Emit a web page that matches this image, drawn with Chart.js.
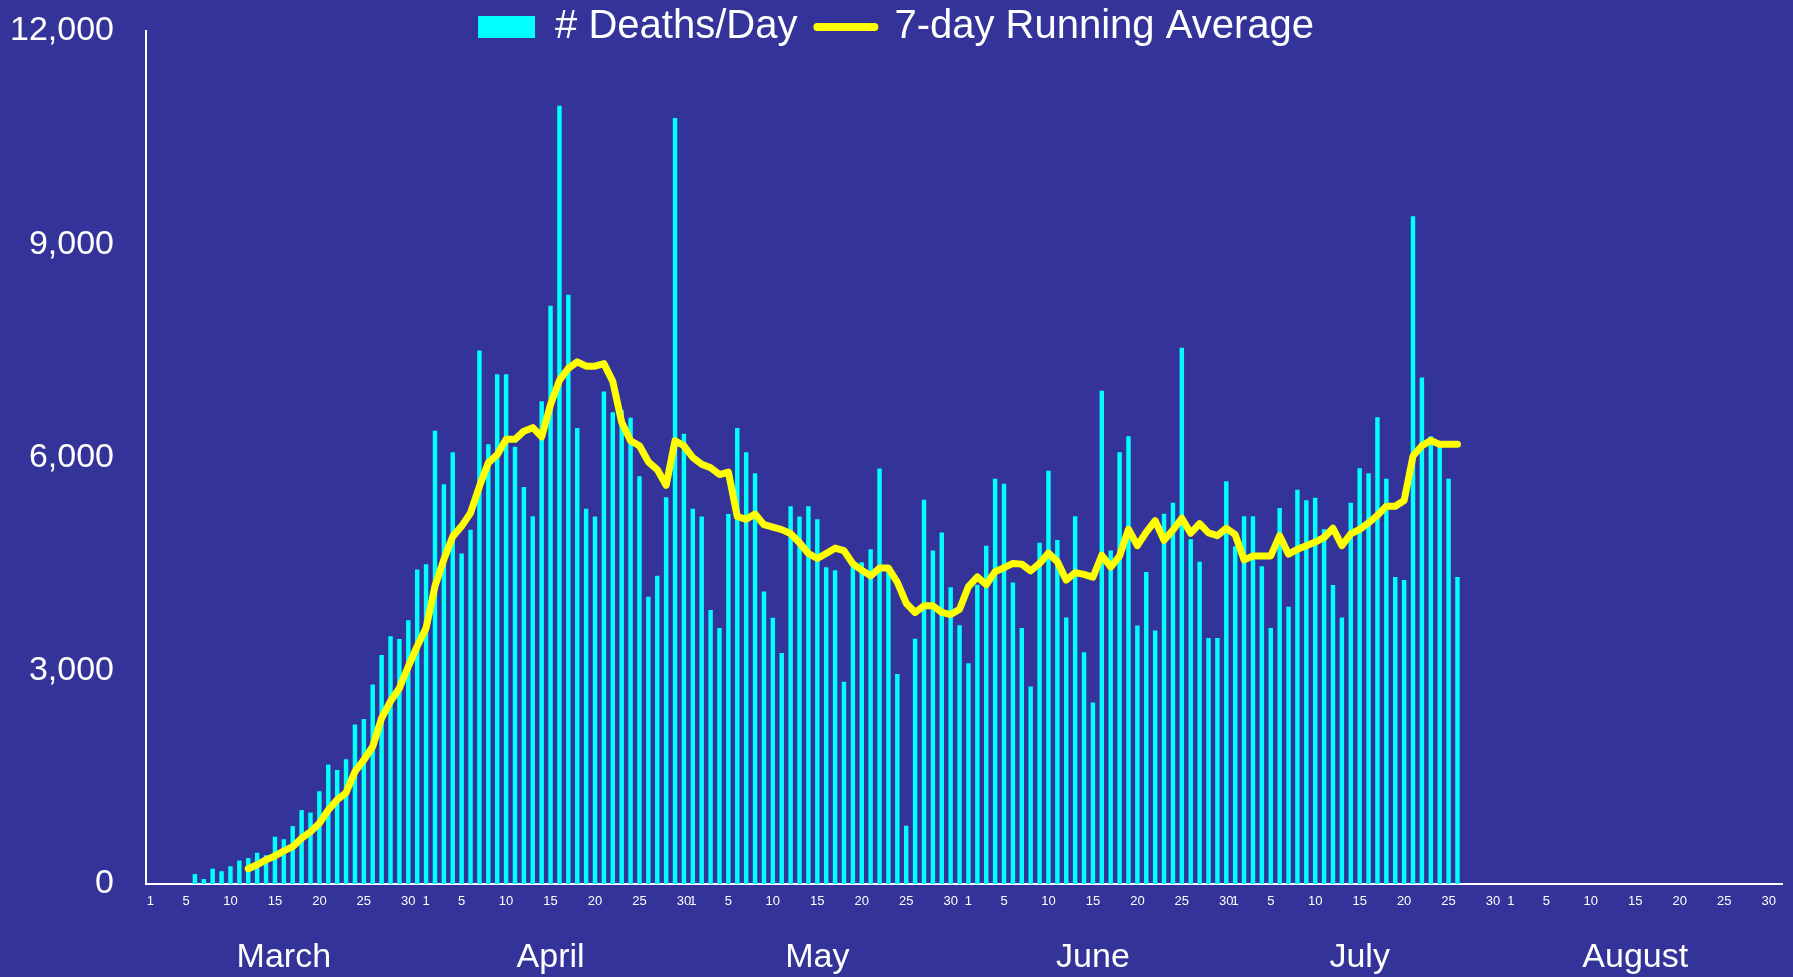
<!DOCTYPE html>
<html>
<head>
<meta charset="utf-8">
<title>Deaths per day</title>
<script src="https://cdn.jsdelivr.net/npm/chart.js@4.4.0/dist/chart.umd.min.js"></script>
<style>
    html, body { margin: 0; padding: 0; background: #333399; overflow: hidden; }
    canvas { display: block; }
</style>
</head>
<body>
<canvas id="deaths-chart" width="1793" height="977"></canvas>
<script>
// ====== CATEGORIES ======
const monthNames = ['March', 'April', 'May', 'June', 'July', 'August'];
const monthLengths = [31, 30, 31, 30, 31, 31];
const shownDays = [1, 5, 10, 15, 20, 25, 30];       // day numbers printed under the axis
const monthLabelDay = [16, 15, 15, 15, 15, 15];     // where each month name sits

// ====== # DEATHS / DAY ======
const deathsMarch = [null, null, null, null, null, 140, 70, 215, 180, 250, 330, 365, 440, 405, 665, 630, 815, 1040, 1005, 1305, 1680, 1605, 1755, 2245, 2320, 2805, 3220, 3485, 3445, 3710, 4425];
const deathsApril = [4500, 6375, 5625, 6075, 4650, 4985, 7505, 6185, 7170, 7170, 6150, 5585, 5175, 6790, 8135, 10950, 8290, 6415, 5280, 5170, 6930, 6635, 6665, 6560, 5735, 4040, 4335, 5440, 10775, 6335];
const deathsMay = [5280, 5170, 3855, 3600, 5205, 6415, 6075, 5780, 4115, 3745, 3250, 5315, 5170, 5315, 5130, 4455, 4415, 2845, 4465, 4525, 4710, 5845, 4400, 2955, 820, 3450, 5405, 4690, 4945, 4175, 3640];
const deathsJune = [3105, 4210, 4760, 5700, 5630, 4240, 3600, 2780, 4800, 5815, 4840, 3750, 5175, 3260, 2555, 6940, 4690, 6075, 6300, 3635, 4390, 3565, 5210, 5365, 7545, 4850, 4535, 3460, 3460, 5665];
const deathsJuly = [4750, 5175, 5175, 4470, 3600, 5290, 3900, 5545, 5400, 5435, 4990, 4205, 3750, 5365, 5850, 5780, 6565, 5700, 4320, 4275, 9395, 7125, 6300, 6175, 5700, 4320, null, null, null, null, null];
const deathsAugust = [null, null, null, null, null, null, null, null, null, null, null, null, null, null, null, null, null, null, null, null, null, null, null, null, null, null, null, null, null, null, null];

// ====== 7-DAY RUNNING AVERAGE ======
const avgMarch = [null, null, null, null, null, null, null, null, null, null, null, 215, 270, 340, 395, 465, 525, 645, 735, 855, 1040, 1185, 1285, 1580, 1745, 1935, 2335, 2570, 2755, 3060, 3345];
const avgApril = [3600, 4190, 4565, 4890, 5035, 5220, 5595, 5925, 6040, 6255, 6255, 6370, 6420, 6290, 6745, 7085, 7255, 7345, 7285, 7285, 7320, 7070, 6495, 6235, 6165, 5940, 5830, 5610, 6235, 6165];
const avgMay = [6000, 5905, 5855, 5760, 5795, 5170, 5130, 5205, 5055, 5020, 4985, 4930, 4800, 4650, 4580, 4650, 4725, 4690, 4505, 4415, 4335, 4445, 4445, 4245, 3950, 3820, 3915, 3915, 3820, 3790, 3865];
const avgJune = [4185, 4320, 4210, 4395, 4450, 4510, 4500, 4405, 4510, 4655, 4535, 4275, 4380, 4355, 4315, 4625, 4460, 4615, 4990, 4760, 4950, 5110, 4835, 4980, 5145, 4935, 5070, 4940, 4900, 5005];
const avgJuly = [4915, 4560, 4615, 4615, 4615, 4900, 4640, 4710, 4760, 4810, 4875, 5005, 4760, 4925, 4990, 5080, 5185, 5315, 5315, 5395, 6020, 6165, 6240, 6185, 6185, 6185, null, null, null, null, null];
const avgAugust = [null, null, null, null, null, null, null, null, null, null, null, null, null, null, null, null, null, null, null, null, null, null, null, null, null, null, null, null, null, null, null];

// ====== Y TICKS ======
const yTicks = [0, 3000, 6000, 9000, 12000];

const deathsPerDay = [].concat(deathsMarch, deathsApril, deathsMay, deathsJune, deathsJuly, deathsAugust);
const runningAverage = [].concat(avgMarch, avgApril, avgMay, avgJune, avgJuly, avgAugust);

// one category per calendar day
const dateLabels = [];
const dayNumbers = [];
const monthAxisLabels = [];
monthNames.forEach((name, m) => {
    for (let d = 1; d <= monthLengths[m]; d++) {
        dateLabels.push(name + ' ' + d);
        dayNumbers.push(d);
        monthAxisLabels.push(d === monthLabelDay[m] ? name : '');
    }
});

Chart.defaults.font.family = "'Liberation Sans', Arial, sans-serif";
Chart.defaults.color = '#ffffff';

// legend overlaps the top of the plot, so it must not take layout space
const legendOnTop = {
    id: 'legendOnTop',
    beforeLayout(chart) {
        const lg = chart.legend;
        if (!lg || lg._flat) return;
        const fit = lg.fit;
        lg.fit = function () {
            fit.call(this);
            this._realHeight = this.height;
            this.height = 0;
        };
        lg._flat = true;
    },
    afterLayout(chart) {
        const lg = chart.legend;
        if (!lg) return;
        lg.height = lg._realHeight;
        lg.top = -13;
        lg.bottom = lg.top + lg.height;
    }
};

// tick padding should not eat into the plot edges
const noEdgePadding = scale => {
    scale.paddingLeft = 0;
    scale.paddingRight = 0;
    scale.paddingTop = 0;
    scale.paddingBottom = 0;
};

const ctx = document.getElementById('deaths-chart');
new Chart(ctx, {
    type: 'bar',
    data: {
        labels: dateLabels,
        datasets: [
            {
                label: '# Deaths/Day',
                data: deathsPerDay,
                backgroundColor: '#00FFFF',
                borderWidth: 0,
                barPercentage: 0.5,
                categoryPercentage: 1,
                order: 1
            },
            {
                type: 'line',
                label: '7-day Running Average',
                data: runningAverage,
                borderColor: '#FFFF00',
                backgroundColor: '#FFFF00',
                borderWidth: 7,
                borderCapStyle: 'round',
                borderJoinStyle: 'round',
                pointRadius: 0,
                tension: 0,
                fill: false,
                order: 0
            }
        ]
    },
    options: {
        responsive: false,
        animation: false,
        layout: { padding: { left: 10, right: 11, top: 31, bottom: 0 } },
        plugins: {
            tooltip: { enabled: false },
            legend: {
                display: true,
                position: 'top',
                labels: {
                    color: '#ffffff',
                    font: { size: 40 },
                    padding: 20,
                    usePointStyle: true,
                    pointStyleWidth: 57,
                    boxHeight: 22,
                    generateLabels(chart) {
                        const items = Chart.defaults.plugins.legend.labels.generateLabels(chart);
                        items.sort((a, b) => a.datasetIndex - b.datasetIndex);
                        items.forEach(item => {
                            const ds = chart.data.datasets[item.datasetIndex];
                            if (ds.type === 'line') {
                                item.pointStyle = 'line';
                                item.lineWidth = 8;
                                item.strokeStyle = ds.borderColor;
                                item.lineCap = 'round';
                            } else {
                                item.pointStyle = 'rect';
                                item.lineWidth = 0;
                            }
                        });
                        return items;
                    }
                }
            }
        },
        scales: {
            x: {
                offset: true,
                grid: { display: false, drawTicks: false },
                border: { display: true, color: '#ffffff', width: 2 },
                ticks: {
                    autoSkip: false,
                    maxRotation: 0,
                    minRotation: 0,
                    padding: 10,
                    color: '#ffffff',
                    font: { size: 13 },
                    callback: (value, index) => shownDays.includes(dayNumbers[index]) ? String(dayNumbers[index]) : ''
                },
                afterFit: scale => { noEdgePadding(scale); scale.height = 26; }
            },
            months: {
                type: 'category',
                position: 'bottom',
                labels: monthAxisLabels,
                offset: true,
                grid: { display: false, drawTicks: false },
                border: { display: false },
                ticks: {
                    autoSkip: false,
                    maxRotation: 0,
                    minRotation: 0,
                    padding: 27,
                    color: '#ffffff',
                    font: { size: 34 }
                },
                afterFit: scale => { noEdgePadding(scale); scale.height = 67; }
            },
            y: {
                min: yTicks[0],
                max: yTicks[yTicks.length - 1],
                grid: { display: false, drawTicks: false },
                border: { display: true, color: '#ffffff', width: 2 },
                ticks: {
                    stepSize: yTicks[1] - yTicks[0],
                    padding: 32,
                    color: '#ffffff',
                    font: { size: 34 },
                    callback: value => value.toLocaleString('en-US')
                },
                afterFit: scale => { noEdgePadding(scale); scale.width = 136; }
            }
        }
    },
    plugins: [legendOnTop]
});
</script>
</body>
</html>
